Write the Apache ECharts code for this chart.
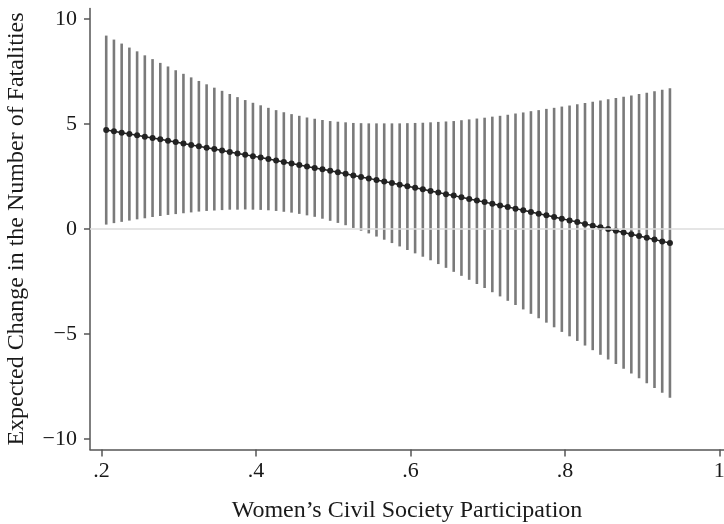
<!DOCTYPE html>
<html>
<head>
<meta charset="utf-8">
<script src="https://cdn.jsdelivr.net/npm/echarts@6/dist/echarts.min.js"></script>
<style>
html,body{margin:0;padding:0;background:#fff;}
#chart{width:724px;height:524px;}
</style>
</head>
<body>
<div id="chart"></div>
<script>
// x values: Women's Civil Society Participation
var xValues = [0.206,0.216,0.226,0.236,0.246,0.256,0.266,0.276,0.286,0.296,
  0.306,0.316,0.326,0.336,0.346,0.356,0.366,0.376,0.386,0.396,
  0.406,0.416,0.426,0.436,0.446,0.456,0.466,0.476,0.486,0.496,
  0.506,0.516,0.526,0.536,0.546,0.556,0.566,0.576,0.586,0.596,
  0.606,0.616,0.626,0.636,0.646,0.656,0.666,0.676,0.686,0.696,
  0.706,0.716,0.726,0.736,0.746,0.756,0.766,0.776,0.786,0.796,
  0.806,0.816,0.826,0.836,0.846,0.856,0.866,0.876,0.886,0.896,
  0.906,0.916,0.926,0.936];
// point estimates
var estimate = [4.71,4.65,4.58,4.52,4.46,4.39,4.33,4.27,4.20,4.14,
  4.07,4.00,3.94,3.87,3.81,3.74,3.67,3.60,3.54,3.47,
  3.40,3.33,3.26,3.19,3.12,3.05,2.98,2.91,2.84,2.77,
  2.70,2.63,2.55,2.48,2.41,2.33,2.26,2.19,2.11,2.04,
  1.96,1.89,1.81,1.74,1.66,1.59,1.51,1.43,1.36,1.28,
  1.20,1.12,1.05,0.97,0.89,0.81,0.73,0.65,0.57,0.49,
  0.41,0.33,0.24,0.16,0.08,0.00,-0.08,-0.17,-0.25,-0.33,
  -0.42,-0.50,-0.59,-0.67];
// upper confidence bound
var upper = [9.21,9.02,8.83,8.64,8.46,8.27,8.09,7.91,7.74,7.56,
  7.39,7.22,7.05,6.89,6.73,6.58,6.43,6.28,6.14,6.01,
  5.89,5.77,5.66,5.56,5.47,5.39,5.31,5.25,5.19,5.14,
  5.11,5.08,5.05,5.04,5.03,5.03,5.03,5.03,5.03,5.04,
  5.05,5.06,5.08,5.10,5.12,5.14,5.18,5.22,5.26,5.30,
  5.35,5.39,5.44,5.50,5.55,5.61,5.66,5.72,5.77,5.83,
  5.88,5.94,6.00,6.06,6.12,6.18,6.24,6.30,6.36,6.43,
  6.49,6.56,6.63,6.70];
// lower confidence bound
var lower = [0.21,0.28,0.34,0.40,0.46,0.51,0.57,0.62,0.67,0.71,
  0.75,0.79,0.83,0.86,0.88,0.90,0.92,0.92,0.93,0.92,
  0.91,0.89,0.86,0.82,0.78,0.72,0.65,0.58,0.49,0.39,
  0.29,0.18,0.05,-0.08,-0.21,-0.36,-0.51,-0.67,-0.83,-1.00,
  -1.16,-1.32,-1.49,-1.67,-1.85,-2.04,-2.23,-2.42,-2.62,-2.81,
  -3.01,-3.21,-3.42,-3.62,-3.83,-4.04,-4.25,-4.46,-4.68,-4.90,
  -5.11,-5.33,-5.55,-5.77,-5.99,-6.21,-6.43,-6.66,-6.88,-7.11,
  -7.34,-7.57,-7.80,-8.04];
var xTicks = [0.2,0.4,0.6,0.8,1];
var xTickLabels = ['.2','.4','.6','.8','1'];
var yTicks = [-10,-5,0,5,10];
var yTickLabels = ['\u221210','\u22125','0','5','10'];

var FONT = 'Liberation Serif';
var ciData = xValues.map(function(x,i){return [x, lower[i], upper[i]];});
var estData = xValues.map(function(x,i){return [x, estimate[i]];});

var chart = echarts.init(document.getElementById('chart'), null, {renderer:'canvas'});
chart.setOption({
  animation:false,
  backgroundColor:'#fff',
  grid:{left:90, right:0, top:8.5, bottom:74.5, containLabel:false, outerBoundsMode:'none'},
  xAxis:{
    type:'value', min:0.185, max:1.006,
    name:"Women\u2019s Civil Society Participation",
    nameLocation:'middle', nameGap:49,
    nameTextStyle:{fontFamily:FONT, fontSize:24, color:'#1a1a1a'},
    axisLine:{show:true, onZero:false, lineStyle:{color:'#555', width:1.5}},
    axisTick:{show:true, length:7, inside:false, customValues:xTicks, lineStyle:{color:'#555', width:1.5}},
    axisLabel:{show:true, margin:11, fontFamily:FONT, fontSize:22, color:'#1a1a1a',
      customValues:xTicks,
      formatter:function(v){var i=xTicks.indexOf(v); return i>=0?xTickLabels[i]:'';}},
    splitLine:{show:false}
  },
  yAxis:{
    type:'value', min:-10.5, max:10.5,
    name:'Expected Change in the Number of Fatalities',
    nameLocation:'middle', nameGap:61, nameRotate:90,
    nameTextStyle:{fontFamily:FONT, fontSize:24, color:'#1a1a1a'},
    axisLine:{show:true, onZero:false, lineStyle:{color:'#555', width:1.5}},
    axisTick:{show:true, length:6, customValues:yTicks, lineStyle:{color:'#555', width:1.5}},
    axisLabel:{show:true, margin:13, fontFamily:FONT, fontSize:22, color:'#1a1a1a',
      customValues:yTicks,
      formatter:function(v){var i=yTicks.indexOf(v); return i>=0?yTickLabels[i]:'';}},
    splitLine:{show:false}
  },
  series:[
    {
      type:'line', data:[], z:1, silent:true,
      markLine:{silent:true, symbol:['none','none'], label:{show:false},
        lineStyle:{color:'#dcdcdc', width:1.5, type:'solid'},
        data:[{yAxis:0}]}
    },
    {
      type:'custom', z:2, silent:true,
      data:ciData,
      encode:{x:0, y:[1,2]},
      renderItem:function(params, api){
        var p1 = api.coord([api.value(0), api.value(1)]);
        var p2 = api.coord([api.value(0), api.value(2)]);
        return {type:'line', shape:{x1:p1[0], y1:p1[1], x2:p2[0], y2:p2[1]},
          style:{stroke:'#7a7a7a', lineWidth:2.6}};
      }
    },
    {
      type:'line', z:3, silent:true,
      data:estData,
      symbol:'circle', symbolSize:6,
      lineStyle:{color:'#222', width:1.5},
      itemStyle:{color:'#222'}
    }
  ]
});
</script>
</body>
</html>
